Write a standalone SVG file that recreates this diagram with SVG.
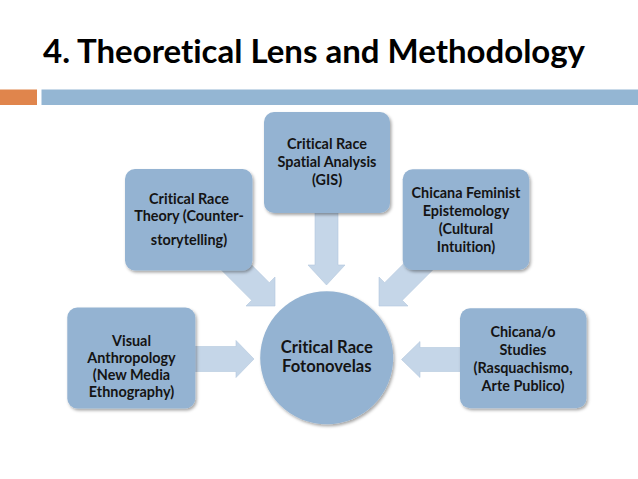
<svg xmlns="http://www.w3.org/2000/svg" width="638" height="479" viewBox="0 0 638 479">
<style>
text{font-variant-ligatures:none;font-feature-settings:"liga" 0,"clig" 0}
.title{font-family:Lato,"Open Sans","Liberation Sans",sans-serif;font-weight:bold;font-size:32px;fill:#000}
.lbl{font-family:Lato,"Open Sans","Liberation Sans",sans-serif;font-weight:bold;font-size:14.4px;fill:#141414;text-anchor:middle}
.big{font-size:16.6px}
.box{fill:#94B3D2;filter:url(#sh)}
.arr{fill:#C5D6E8;stroke:#B4C8DD;stroke-width:0.6}
</style>
<defs>
<filter id="sh" x="-10%" y="-10%" width="125%" height="125%">
<feDropShadow dx="1.5" dy="2" stdDeviation="1.6" flood-color="#000" flood-opacity="0.35"/>
</filter>
</defs>
<rect width="638" height="479" fill="#fff"/>
<g id="title">
<text class="title" x="43" y="62.5" textLength="542" lengthAdjust="spacingAndGlyphs">4. Theoretical Lens and Methodology</text>
</g>
<g id="header-bar">
<rect x="0" y="89.5" width="37" height="15.5" fill="#E0854C"/>
<rect x="41.5" y="89.5" width="596.5" height="15.5" fill="#94B6D3"/>
</g>
<g id="connectors">
<path class="arr" d="M190,346.5 H236 V340.5 L254,359 L236,377.5 V371.5 H190 Z"/>
<path class="arr" d="M464,347.5 H420 V341.5 L401.5,359.5 L420,377.5 V371.5 H464 Z"/>
<path class="arr" d="M315,205 V265 H308 L326.5,285 L345,265 H338 V205 Z"/>
<path class="arr" d="M233.84,247.16 L269.34,282.66 L275,277 L275,306 L246,306 L251.66,300.34 L216.16,264.84 Z"/>
<path class="arr" d="M420.16,247.16 L384.66,282.66 L379,277 L379,306 L408,306 L402.34,300.34 L437.84,264.84 Z"/>
</g>
<g id="node-spatial">
<rect class="box" x="264" y="112" width="126" height="101" rx="10"/>
<text class="lbl" x="327" y="149.3">Critical Race</text>
<text class="lbl" x="327" y="167.3">Spatial Analysis</text>
<text class="lbl" x="327" y="185">(GIS)</text>
</g>
<g id="node-crt">
<rect class="box" x="125" y="169" width="127.5" height="101.5" rx="10"/>
<text class="lbl" x="189" y="204">Critical Race</text>
<text class="lbl" x="189" y="221">Theory (Counter-</text>
<text class="lbl" x="189" y="245">storytelling)</text>
</g>
<g id="node-chicana-feminist">
<rect class="box" x="402.7" y="169.3" width="126.6" height="100.7" rx="10"/>
<text class="lbl" x="466" y="197.5">Chicana Feminist</text>
<text class="lbl" x="466" y="215.5">Epistemology</text>
<text class="lbl" x="466" y="233.5">(Cultural</text>
<text class="lbl" x="466" y="251.5">Intuition)</text>
</g>
<g id="node-visual">
<rect class="box" x="67.3" y="307.5" width="128" height="101" rx="10"/>
<text class="lbl" x="131.5" y="345.5">Visual</text>
<text class="lbl" x="131.5" y="363">Anthropology</text>
<text class="lbl" x="131.5" y="380">(New Media</text>
<text class="lbl" x="131.5" y="396.8">Ethnography)</text>
</g>
<g id="node-chicanao">
<rect class="box" x="460" y="308.3" width="126.5" height="100" rx="10"/>
<text class="lbl" x="523" y="337">Chicana/o</text>
<text class="lbl" x="523" y="355.3">Studies</text>
<text class="lbl" x="523" y="373">(Rasquachismo,</text>
<text class="lbl" x="523" y="391.3">Arte Publico)</text>
</g>
<g id="node-center">
<circle class="box" cx="326.7" cy="357.8" r="66.5"/>
<text class="lbl big" x="326.8" y="353.3">Critical Race</text>
<text class="lbl big" x="326.8" y="371.7">Fotonovelas</text>
</g>
</svg>
